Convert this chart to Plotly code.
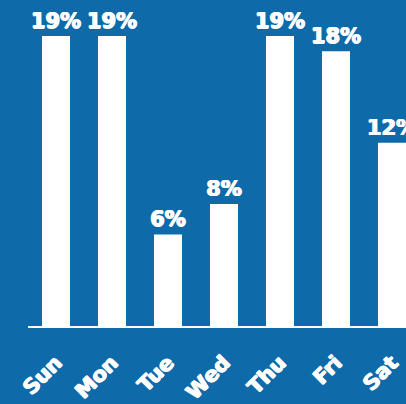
import plotly.graph_objects as go

days = ["Sun", "Mon", "Tue", "Wed", "Thu", "Fri", "Sat"]
shares = [19, 19, 6, 8, 19, 18, 12]
labels = [f"{v}%" for v in shares]

BG = "#0F6AA9"
FONT = "DejaVu Sans"
# thickens the bold glyphs slightly
HEAVY = "0.7px 0 0 white, -0.7px 0 0 white, 0 0.5px 0 white"

fig = go.Figure(
    go.Bar(
        x=days,
        y=shares,
        text=labels,
        textposition="outside",
        cliponaxis=True,
        constraintext="none",
        textfont=dict(family=FONT, size=21, color="white", weight="bold", shadow=HEAVY),
        marker=dict(color="white", line=dict(width=0)),
        hoverinfo="skip",
    )
)

fig.update_layout(
    width=406,
    height=404,
    margin=dict(l=28, r=0, t=0, b=75),
    paper_bgcolor=BG,
    plot_bgcolor=BG,
    bargap=0.5,
    showlegend=False,
    uniformtext=dict(minsize=21, mode="show"),
    xaxis=dict(
        range=[-0.5, 6.25],
        showgrid=False,
        zeroline=False,
        showline=True,
        linecolor="white",
        linewidth=2,
        ticks="",
        tickangle=-45,
        ticklabelstandoff=14,
        tickfont=dict(family=FONT, size=21, color="white", weight="bold", shadow=HEAVY),
    ),
    yaxis=dict(
        range=[0, 21.36],
        showgrid=False,
        zeroline=False,
        showticklabels=False,
        showline=False,
        ticks="",
    ),
)

fig.write_html("out.html")
